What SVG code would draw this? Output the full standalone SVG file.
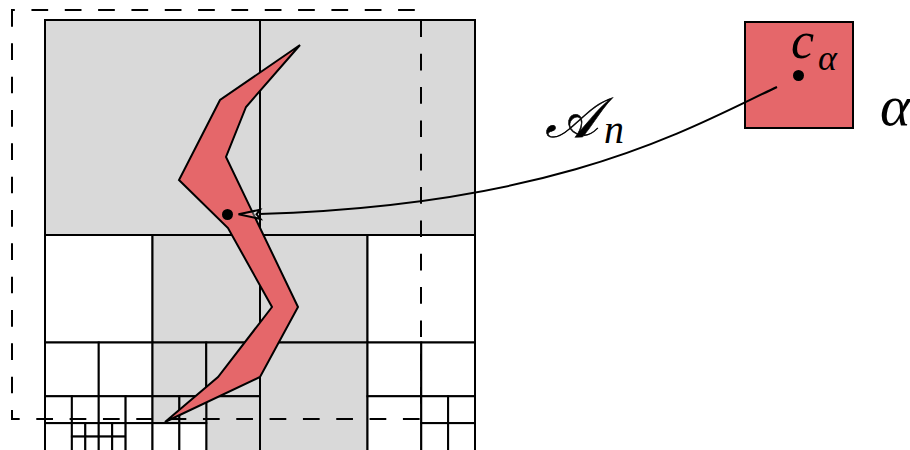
<svg xmlns="http://www.w3.org/2000/svg" width="910" height="450" viewBox="0 0 910 450">
<style>
.g{fill:#d9d9d9;stroke:#000;stroke-width:2}
.w{fill:#fff;stroke:#000;stroke-width:2}
.red{fill:#e5676a;stroke:#000;stroke-width:2;stroke-linejoin:miter}
.dash{fill:none;stroke:#000;stroke-width:2;stroke-dasharray:16.7 16.63}
.edge{fill:none;stroke:#000;stroke-width:2}
.lbl{font-family:"Liberation Serif","DejaVu Serif",serif;font-style:italic;fill:#000}
</style>
<g id="quadtree">
<rect class="g" x="45" y="20" width="215" height="215"/>
<rect class="g" x="260" y="20" width="215" height="215"/>
<rect class="w" x="45" y="235" width="107.5" height="107.5"/>
<rect class="g" x="152.5" y="235" width="107.5" height="107.5"/>
<rect class="w" x="45" y="342.5" width="53.75" height="53.75"/>
<rect class="w" x="98.75" y="342.5" width="53.75" height="53.75"/>
<rect class="w" x="45" y="396.25" width="26.875" height="26.875"/>
<rect class="w" x="71.875" y="396.25" width="26.875" height="26.875"/>
<rect class="w" x="45" y="423.125" width="26.875" height="31"/>
<rect class="w" x="71.875" y="423.125" width="13.4375" height="13.4375"/>
<rect class="w" x="85.3125" y="423.125" width="13.4375" height="13.4375"/>
<rect class="w" x="71.875" y="436.5625" width="13.4375" height="18"/>
<rect class="w" x="85.3125" y="436.5625" width="13.4375" height="18"/>
<rect class="w" x="98.75" y="396.25" width="26.875" height="26.875"/>
<rect class="w" x="125.625" y="396.25" width="26.875" height="26.875"/>
<rect class="w" x="98.75" y="423.125" width="13.4375" height="13.4375"/>
<rect class="w" x="112.1875" y="423.125" width="13.4375" height="13.4375"/>
<rect class="w" x="98.75" y="436.5625" width="13.4375" height="18"/>
<rect class="w" x="112.1875" y="436.5625" width="13.4375" height="18"/>
<rect class="w" x="125.625" y="423.125" width="26.875" height="31"/>
<rect class="g" x="152.5" y="342.5" width="53.75" height="53.75"/>
<rect class="g" x="206.25" y="342.5" width="53.75" height="53.75"/>
<rect class="g" x="206.25" y="396.25" width="53.75" height="58"/>
<rect class="g" x="152.5" y="396.25" width="26.875" height="26.875"/>
<rect class="g" x="179.375" y="396.25" width="26.875" height="26.875"/>
<rect class="w" x="152.5" y="423.125" width="26.875" height="31"/>
<rect class="w" x="179.375" y="423.125" width="26.875" height="31"/>
<rect class="g" x="260" y="235" width="107.5" height="107.5"/>
<rect class="w" x="367.5" y="235" width="107.5" height="107.5"/>
<rect class="g" x="260" y="342.5" width="107.5" height="112"/>
<rect class="w" x="367.5" y="342.5" width="53.75" height="53.75"/>
<rect class="w" x="421.25" y="342.5" width="53.75" height="53.75"/>
<rect class="w" x="367.5" y="396.25" width="53.75" height="58"/>
<rect class="w" x="421.25" y="396.25" width="26.875" height="26.875"/>
<rect class="w" x="448.125" y="396.25" width="26.875" height="26.875"/>
<rect class="w" x="421.25" y="423.125" width="26.875" height="31"/>
<rect class="w" x="448.125" y="423.125" width="26.875" height="31"/>
</g>
<g id="window">
<path class="dash" d="M12,10 V419 H421 V10 Z"/>
</g>
<g id="region">
<polygon class="red" points="300,45 220,100 179,180 228,228 272,307 218,377 165,422 260,377 298,307 226,157 246,107"/>
<circle cx="227.5" cy="214.5" r="5.5" fill="#000"/>
</g>
<g id="alpha">
<rect class="red" x="745" y="22" width="108" height="106"/>
<circle cx="798.5" cy="75.5" r="5.5" fill="#000"/>
<text class="lbl" x="791" y="58" font-size="52">c</text>
<text class="lbl" x="818" y="70" font-size="36">α</text>
<text class="lbl" x="880" y="125" font-size="58">α</text>
</g>
<g id="connectors">
<path class="edge" d="M777,87 C690,128 560,205 259,214"/>
<path d="M238.5,214.3 L260,209.8 L256.5,214.3 L260.5,219 Z" fill="#fff" fill-opacity="0.3" stroke="#000" stroke-width="2" stroke-linejoin="miter"/>
<text class="lbl" x="545" y="137" font-size="56" stroke="#000" stroke-width="0.6">𝒜</text>
<text class="lbl" x="604" y="143" font-size="40">n</text>
</g>
</svg>
